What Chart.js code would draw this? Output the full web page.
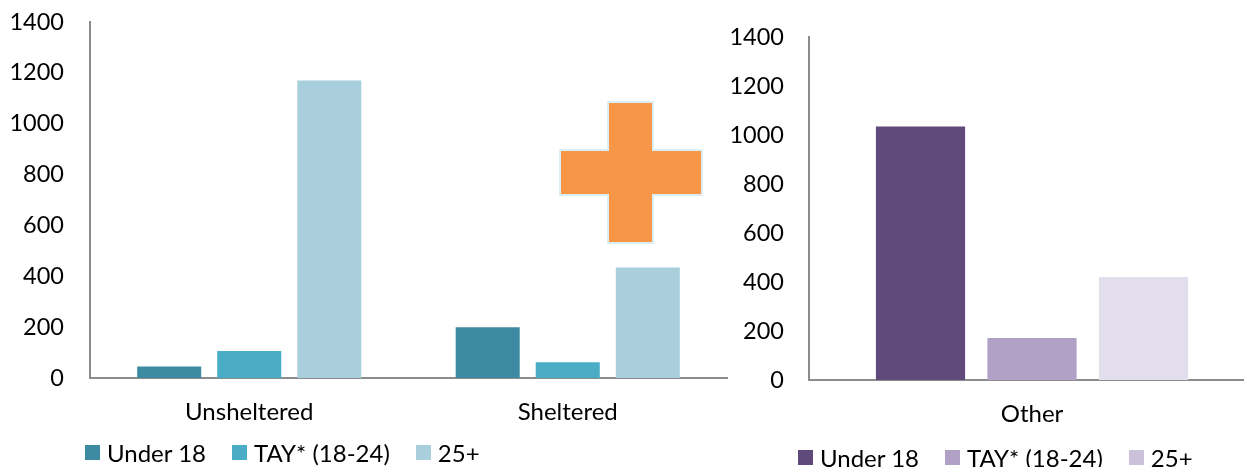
<!DOCTYPE html>
<html>
<head>
<meta charset="utf-8">
<script src="https://cdn.jsdelivr.net/npm/chart.js@4/dist/chart.umd.min.js"></script>
<style>
  html, body { margin: 0; padding: 0; background: #fff; overflow: hidden; width: 1244px; height: 467px; }
  body { position: relative; font-family: Lato, "Open Sans", sans-serif; }
  .panel { position: absolute; top: 0; height: 467px; }
  #leftPanel { left: 0; width: 740px; }
  #rightPanel { left: 715px; width: 555px; }
  .legend { position: absolute; display: flex; align-items: center; font-size: 24px; color: #000; white-space: nowrap; }
  .legend .item { display: flex; align-items: center; margin-right: 26px; }
  .legend .box { width: 15px; height: 15px; margin-right: 7px; }
  #leftLegend { left: 85px; top: 437px; height: 30px; }
  #rightLegend { left: 798px; top: 442px; height: 30px; }
  #plus { position: absolute; left: 558px; top: 100px; }
</style>
</head>
<body>
<div id="leftPanel" class="panel"><canvas id="leftChart"></canvas></div>
<div id="rightPanel" class="panel"><canvas id="rightChart"></canvas></div>
<div id="leftLegend" class="legend"></div>
<div id="rightLegend" class="legend"></div>
<svg id="plus" width="147" height="146" viewBox="0 0 147 146">
  <polygon points="50,2 95,2 95,50 144,50 144,95 95,95 95,143 50,143 50,95 2,95 2,50 50,50"
           fill="#F79646" stroke="#DAEEF3" stroke-width="2"/>
</svg>
<script>
// Categories, series and axis ticks
const leftCategories = ["Unsheltered", "Sheltered"];
const rightCategories = ["Other"];
const seriesNames = ["Under 18", "TAY* (18-24)", "25+"];

const under18Left = [45, 200];
const tayLeft = [106, 62];
const over25Left = [1170, 435];

const under18Right = [1035];
const tayRight = [171];
const over25Right = [420];

const yTicks = [0, 200, 400, 600, 800, 1000, 1200, 1400];

const leftColors = ["#3D8BA3", "#4BACC6", "#A9CEDC"];
const rightColors = ["#604A7B", "#B2A1C7", "#E3DEEB"];
const rightLegendColors = ["#604A7B", "#B2A1C7", "#CCC1DA"];

const TICK_FONT = { family: "Lato, 'Open Sans', sans-serif", size: 23.5 };
const CAT_FONT = { family: "Lato, 'Open Sans', sans-serif", size: 24 };

function makeOptions(axisWidth, xHeight, padTop, padRight, catPct, labelPad) {
  return {
    responsive: true,
    maintainAspectRatio: false,
    animation: false,
    layout: { padding: { top: padTop, right: padRight, left: 0, bottom: 0 } },
    plugins: { legend: { display: false }, tooltip: { enabled: false } },
    datasets: { bar: { categoryPercentage: catPct, barPercentage: 0.8, borderWidth: 0 } },
    scales: {
      x: {
        grid: { display: false, drawTicks: false },
        border: { display: true, color: "#8C8C8C", width: 2 },
        ticks: { color: "#000", font: CAT_FONT, padding: 20 },
        afterFit: s => { s.height = xHeight; s.paddingLeft = 0; s.paddingRight = 0; }
      },
      y: {
        min: 0, max: 1400,
        afterBuildTicks: s => { s.ticks = yTicks.map(v => ({ value: v })); },
        grid: { display: false, drawTicks: false },
        border: { display: true, color: "#8C8C8C", width: 2 },
        ticks: { color: "#000", font: TICK_FONT, padding: labelPad, callback: v => String(v) },
        afterFit: s => { s.width = axisWidth; s.paddingTop = 0; s.paddingBottom = 0; }
      }
    }
  };
}

function buildLegend(el, colors) {
  seriesNames.forEach((name, i) => {
    const item = document.createElement("div");
    item.className = "item";
    const box = document.createElement("span");
    box.className = "box";
    box.style.background = colors[i];
    const txt = document.createElement("span");
    txt.textContent = name;
    item.appendChild(box);
    item.appendChild(txt);
    el.appendChild(item);
  });
}

new Chart(document.getElementById("leftChart"), {
  type: "bar",
  data: {
    labels: leftCategories,
    datasets: [
      { label: seriesNames[0], data: under18Left, backgroundColor: leftColors[0] },
      { label: seriesNames[1], data: tayLeft, backgroundColor: leftColors[1] },
      { label: seriesNames[2], data: over25Left, backgroundColor: leftColors[2] }
    ]
  },
  options: makeOptions(90, 89, 22, 13, 0.754, 26)
});

new Chart(document.getElementById("rightChart"), {
  type: "bar",
  data: {
    labels: rightCategories,
    datasets: [
      { label: seriesNames[0], data: under18Right, backgroundColor: rightColors[0] },
      { label: seriesNames[1], data: tayRight, backgroundColor: rightColors[1] },
      { label: seriesNames[2], data: over25Right, backgroundColor: rightColors[2] }
    ]
  },
  options: makeOptions(94, 87, 37, 15, 0.75, 25)
});

buildLegend(document.getElementById("leftLegend"), leftColors);
buildLegend(document.getElementById("rightLegend"), rightLegendColors);
</script>
</body>
</html>
